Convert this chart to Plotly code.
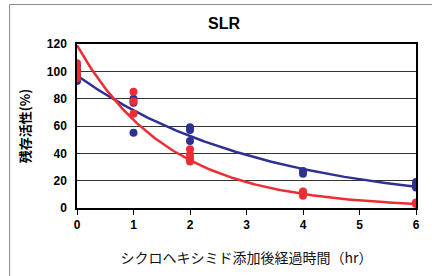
import numpy as np
import plotly.graph_objects as go

# Data
blue_t = [0, 0, 0, 0, 1, 1, 1, 2, 2, 2, 4, 4, 6, 6, 6]
blue_v = [93, 97, 101, 104, 55, 77, 80, 49, 57, 59, 25, 27, 15, 17, 19]
red_t = [0, 0, 0, 0, 1, 1, 1, 2, 2, 2, 2, 4, 4, 4, 6, 6]
red_v = [95, 99, 102, 106, 69, 78, 85, 34, 36, 39, 43, 9, 11, 12, 3, 4]

# exponential trendline parameters (a * exp(-k t))
blue_fit = (97.0, 0.306)
red_fit = (119.0, 0.613)

x_ticks = [0, 1, 2, 3, 4, 5, 6]
y_ticks = [0, 20, 40, 60, 80, 100, 120]

BLUE = "#2e3192"
RED = "#ec2d35"

tt = np.linspace(0, 6, 200)
fig = go.Figure()
for (a, k), col in [(blue_fit, BLUE), (red_fit, RED)]:
    fig.add_trace(go.Scatter(x=tt, y=a * np.exp(-k * tt), mode="lines",
                             line=dict(color=col, width=2.5), showlegend=False,
                             hoverinfo="skip"))
fig.add_trace(go.Scatter(x=blue_t, y=blue_v, mode="markers",
                         marker=dict(color=BLUE, size=8), showlegend=False))
fig.add_trace(go.Scatter(x=red_t, y=red_v, mode="markers",
                         marker=dict(color=RED, size=8), showlegend=False))

bold = dict(family="Liberation Sans, Arial", size=12, color="black")
fig.update_layout(
    width=432, height=276,
    margin=dict(l=77, r=13, t=44, b=66),
    paper_bgcolor="white", plot_bgcolor="white",
    title=dict(text="<b>SLR</b>", x=224 / 432, xanchor="center",
               y=1 - 23 / 276, yanchor="middle",
               font=dict(family="Liberation Sans, Arial", size=16, color="black")),
    xaxis=dict(range=[0, 6], tickvals=x_ticks,
               ticktext=[f"<b>{v}</b>" for v in x_ticks],
               showgrid=False, zeroline=False, showline=True, linecolor="black",
               linewidth=1.5, mirror=True, ticks="outside", ticklen=5,
               tickcolor="black", tickfont=bold,
               title=dict(text="シクロヘキシミド添加後経過時間（hr）", standoff=22,
                          font=dict(family="Noto Sans CJK JP", size=14, color="#111"))),
    yaxis=dict(range=[0, 120], tickvals=y_ticks,
               ticktext=[f"<b>{v}</b>" for v in y_ticks],
               showgrid=True, gridcolor="#333", gridwidth=1.2, zeroline=False,
               showline=True, linecolor="black", linewidth=1.5, mirror=True,
               ticks="", tickfont=bold, ticklabelstandoff=6,
               title=dict(text="<b>残存活性(%)</b>", standoff=13,
                          font=dict(family="Noto Sans CJK JP", size=13, color="black"))),
    shapes=[
        dict(type="line", xref="paper", yref="paper", x0=(9 - 77) / 342, x1=1.2,
             y0=(210 - 4) / 166, y1=(210 - 4) / 166, line=dict(color="#888", width=1)),
        dict(type="line", xref="paper", yref="paper", x0=(9 - 77) / 342, x1=(9 - 77) / 342,
             y0=-0.5, y1=(210 - 4) / 166, line=dict(color="#888", width=1)),
    ],
)
fig.write_html("out.html", config={"displayModeBar": False},
               post_script="document.body.style.margin='0px';")
